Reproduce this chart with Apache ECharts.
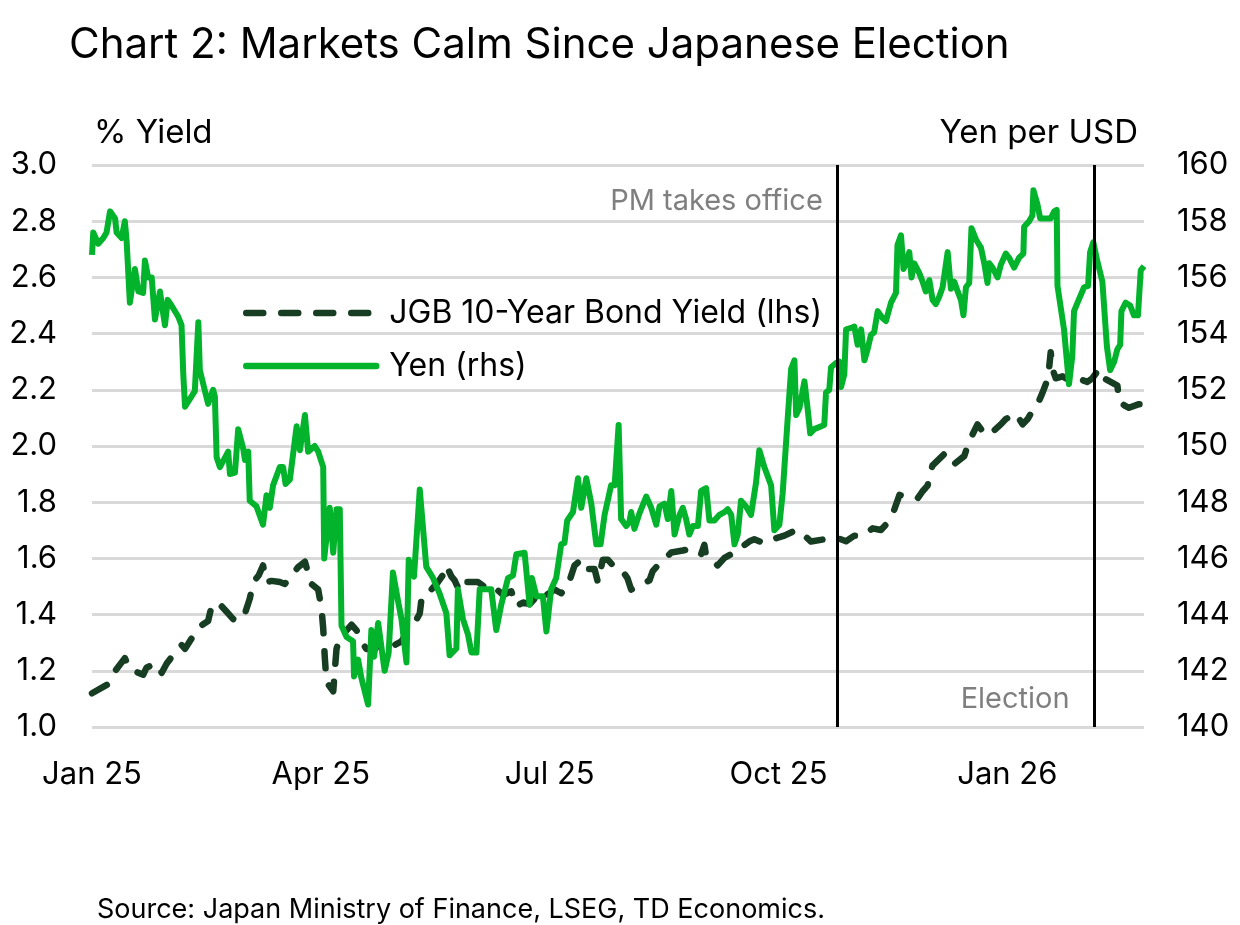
<!DOCTYPE html>
<html>
<head>
<meta charset="utf-8">
<script src="https://cdn.jsdelivr.net/npm/echarts@6/dist/echarts.min.js"></script>
<style>
  html, body { margin: 0; padding: 0; background: #fff; }
  #chart { width: 1240px; height: 925px; }
</style>
</head>
<body>
<div id="chart"></div>
<script>
// x = days since 1 Jan 2025
var xLabels = ['Jan 25', 'Apr 25', 'Jul 25', 'Oct 25', 'Jan 26'];
var quarterDays = 91.25;

// JGB 10-year yield, % (lhs)
var jgbPoints = [
  [0,1.12],[6.5,1.153],[9.2,1.199],[13.1,1.245],[15.1,1.206],[20.4,1.186],[21.8,1.212],[25.8,1.226],[27.8,1.193],[29.8,1.226],
  [33.1,1.265],[35.7,1.292],[37.1,1.278],[40.4,1.325],[43,1.358],[46.3,1.377],[47.7,1.43],[50.3,1.443],[53.7,1.41],[56.3,1.384],
  [58.3,1.377],[61,1.404],[62.9,1.456],[64.3,1.516],[66.5,1.54],[68.2,1.575],[69.5,1.515],[71.6,1.52],[74.9,1.516],[76.9,1.509],
  [82.2,1.569],[84.9,1.588],[87.5,1.509],[90.2,1.489],[91.5,1.423],[92.2,1.351],[92.8,1.252],[93.5,1.16],[96.2,1.127],[96.8,1.199],
  [97.5,1.278],[98.8,1.318],[101.5,1.344],[103.5,1.364],[105.5,1.344],[107.4,1.305],[109.4,1.278],[112.7,1.278],[115.4,1.298],[118,1.305],
  [120.7,1.292],[123.4,1.305],[126,1.344],[128.7,1.371],[130.7,1.404],[131.4,1.456],[133.3,1.483],[135.3,1.489],[138,1.516],[140,1.542],
  [141.3,1.575],[143.3,1.536],[144.6,1.522],[146.6,1.483],[149.3,1.516],[153.9,1.516],[157.9,1.489],[160.6,1.496],[163.9,1.47],[167.2,1.483],
  [169.2,1.43],[171.9,1.443],[174.5,1.437],[177.2,1.463],[179.2,1.45],[181.2,1.47],[184.5,1.489],[187.1,1.476],[189.8,1.503],[192.4,1.575],
  [195.1,1.595],[197.1,1.562],[200.4,1.562],[201.7,1.516],[203.7,1.595],[205.7,1.595],[208.4,1.569],[211,1.562],[213.5,1.53],[215,1.489],
  [217,1.496],[222.3,1.522],[223.6,1.555],[226.3,1.582],[231,1.621],[235.6,1.628],[239,1.635],[242.9,1.615],[244.2,1.648],[244.9,1.608],
  [249.5,1.575],[252.2,1.602],[254.9,1.615],[257.5,1.628],[260.2,1.648],[262.2,1.661],[264.1,1.668],[268.1,1.654],[271.4,1.668],[276.1,1.681],
  [280.8,1.701],[283.4,1.687],[286.7,1.66],[292,1.668],[296.7,1.674],[300.7,1.661],[304,1.681],[307.3,1.681],[311.3,1.707],[314.6,1.701],
  [317.3,1.727],[319.9,1.773],[322,1.826],[326.6,1.819],[329.2,1.813],[331.2,1.839],[333.2,1.859],[334.5,1.912],[335.2,1.931],[339.8,1.971],
  [343.2,1.931],[347.8,1.964],[349.8,2.017],[353.1,2.077],[355.8,2.044],[357.8,2.04],[362.4,2.077],[364.4,2.096],[368.4,2.116],[371.1,2.077],
  [373.1,2.096],[375.7,2.136],[377.7,2.162],[379,2.189],[380.4,2.222],[381.7,2.281],[382.3,2.334],[383,2.274],[384.3,2.241],[387,2.248],
  [389.6,2.235],[393,2.241],[396.9,2.228],[398.9,2.241],[401.6,2.274],[403.6,2.241],[406.2,2.228],[408.9,2.215],[409.6,2.156],[412.2,2.142],
  [413.5,2.136],[417.5,2.149],[419.5,2.149]
];

// Yen per USD (rhs)
var yenPoints = [
  [0,156.8],[0.5,157.6],[2.5,157.2],[4.5,157.4],[5.8,157.6],[7.2,158.35],[9.2,158.1],[9.8,157.6],[11.8,157.4],[13.1,158.0],
  [13.8,157.3],[15.1,155.1],[17.1,156.3],[18.5,155.5],[20.4,155.45],[21.1,156.6],[22.4,156.0],[23.8,156.0],[25.1,154.5],[27.1,155.5],
  [28.4,154.7],[29.1,154.3],[30.2,155.2],[31.7,155.0],[34.4,154.6],[35.7,154.3],[36.4,152.55],[37.1,151.4],[37.7,151.35],[41,151.95],
  [42.4,154.4],[43,152.7],[46.3,151.5],[48.3,152.0],[49,151.75],[49.7,149.6],[51,149.25],[54.3,149.8],[55,149.0],[57,149.05],
  [58.3,150.6],[60.3,149.9],[61,149.5],[62.3,149.8],[62.9,148.05],[65.6,147.85],[68.2,147.2],[69.6,148.25],[70.9,147.8],[72.2,148.6],
  [74.9,149.25],[76.2,149.25],[77.2,148.65],[78.9,148.8],[81.6,150.7],[82.9,149.85],[84.9,151.1],[86.2,149.8],[88.8,150.0],[90.2,149.8],
  [92.2,149.25],[92.6,146.0],[94.8,147.8],[96.2,146.2],[97.5,147.75],[98.8,147.75],[99.5,143.6],[101.5,143.2],[104.1,143.05],[104.5,141.8],
  [106.1,142.4],[107.4,141.75],[110.1,140.8],[111.4,143.45],[112.5,142.5],[114.1,143.7],[116.7,142.0],[118.3,142.65],[120,145.5],[122,144.5],
  [123.4,143.85],[125.4,142.3],[126.3,145.95],[128.4,145.35],[130.7,148.45],[133.3,145.7],[136,145.3],[138.6,144.75],[141.3,144.05],[142.6,142.55],
  [145.3,142.8],[145.9,144.9],[147.9,143.85],[149.9,143.3],[151.3,142.65],[153.3,142.65],[154.6,144.9],[156.6,144.9],[159.2,144.9],[161.2,143.45],
  [163.2,144.35],[165.9,145.3],[167.9,145.4],[169.2,146.15],[172.5,146.2],[174.5,144.35],[175.4,145.3],[177.2,144.65],[179.8,144.65],[181.2,143.4],
  [183.1,144.9],[185.1,145.3],[187.1,146.5],[188.4,146.55],[189.5,147.35],[191.8,147.65],[193.8,148.85],[195.1,147.8],[197.1,148.85],[199.1,147.95],
  [201.1,146.5],[202.8,146.5],[204.4,147.55],[207,148.6],[208.4,148.6],[210,150.75],[211,147.4],[213,147.15],[214.3,147.3],[215,147.65],
  [216.3,147.05],[218.3,147.6],[221,148.2],[223,147.8],[225,147.2],[226.3,147.85],[228.3,147.95],[229.6,147.4],[231,148.4],[232.3,146.85],
  [234.3,147.55],[235.6,147.8],[236.9,147.4],[238.2,146.85],[239.6,147.15],[241.6,147.15],[242.9,148.4],[244.9,148.5],[246.2,147.35],[248.2,147.35],
  [250.2,147.55],[252.2,147.65],[253.5,147.75],[254.9,147.55],[256.2,146.5],[257.5,146.85],[258.8,148.05],[260.8,147.85],[262.8,147.55],[264.8,148.7],
  [266.1,149.85],[268.1,149.25],[270.8,148.6],[272.1,147.0],[274.1,147.2],[275.4,148.3],[277.4,150.95],[278.8,152.75],[280.1,153.05],[280.8,151.1],
  [282.1,151.35],[284.1,152.3],[285.4,151.3],[286.4,150.45],[288,150.6],[292,150.75],[292.7,151.9],[294,152.0],[294.7,152.8],[296.7,152.95],
  [298,153.0],[298.7,152.1],[300,152.55],[300.7,154.15],[302.7,154.2],[304,154.25],[305.3,153.6],[306.7,154.15],[308,153.05],[309.3,153.45],
  [310.6,153.95],[311.9,154.05],[313.3,154.8],[315.3,154.55],[316.6,154.45],[318.6,155.1],[320.6,155.45],[321.2,157.15],[322.6,157.5],[323.6,156.3],
  [324.6,156.5],[325.9,156.9],[326.8,156.0],[327.9,156.5],[329.9,156.15],[331.2,155.85],[332.5,155.5],[333.9,155.9],[335.2,155.2],[336.5,155.05],
  [337.8,155.3],[339.2,155.65],[341.2,156.9],[342.5,155.6],[343.8,155.85],[345.2,155.5],[346.5,155.2],[347.5,154.65],[348.5,155.65],[349.8,155.8],
  [350.7,157.75],[352.5,157.35],[354.5,157.05],[355.8,156.5],[357.1,155.8],[357.8,156.5],[359.1,156.35],[361.1,156.0],[362.4,156.45],[364.4,156.85],
  [365.7,156.7],[367.7,156.35],[369.7,156.7],[371.4,156.85],[371.7,157.8],[373.7,158.0],[375,158.2],[375.4,159.1],[377,158.6],[378.1,158.1],
  [379.7,158.1],[382.3,158.1],[383.7,158.35],[384.7,158.4],[385,155.7],[387.6,154.15],[389.6,152.2],[390.9,153.2],[391.6,154.8],[393,155.1],
  [395.6,155.65],[397.2,155.7],[398,156.9],[399.3,157.25],[400.7,156.65],[402.9,155.85],[404.7,153.55],[406,152.7],[407.6,153.0],[408.9,153.45],
  [410,153.6],[410.5,154.8],[412.2,155.1],[414,155.0],[415.5,154.65],[417.1,154.65],[418.2,156.25],[419.5,156.4]
];

// events: PM takes office, election
var eventDays = [297.2, 399.6];
var eventLabels = ['PM takes office', 'Election'];
var eventLabelYield = [2.87, 1.10];

var FONT = 'Inter';
var chart = echarts.init(document.getElementById('chart'));

var option = {
    animation: false,
    textStyle: { fontFamily: FONT },
    title: [
        {
            text: 'Chart 2: Markets Calm Since Japanese Election',
            left: 64, top: 19,
            textStyle: { fontFamily: FONT, fontSize: 42, fontWeight: 'normal', color: '#000' }
        },
        {
            text: 'Source: Japan Ministry of Finance, LSEG, TD Economics.',
            left: 92, top: 891,
            textStyle: { fontFamily: FONT, fontSize: 27, fontWeight: 'normal', color: '#000' }
        }
    ],
    legend: {
        orient: 'vertical',
        left: 238, top: 292,
        itemWidth: 130, itemHeight: 14, itemGap: 21,
        itemStyle: { opacity: 0 },
        lineStyle: { width: 6.5, cap: 'round', opacity: 1 },
        textStyle: { fontFamily: FONT, fontSize: 32, color: '#000', padding: [0, 0, 0, 8] },
        data: ['JGB 10-Year Bond Yield (lhs)', 'Yen (rhs)']
    },
    grid: { left: 92, right: 96, top: 165, bottom: 198 },
    xAxis: {
        type: 'value',
        min: 0, max: 419.5, interval: quarterDays,
        axisLine: { show: false },
        axisTick: { show: false },
        splitLine: { show: false },
        axisLabel: {
            showMaxLabel: false,
            margin: 32,
            fontFamily: FONT, fontSize: 31, color: '#000',
            formatter: function (v) { return xLabels[Math.round(v / quarterDays)] || ''; }
        }
    },
    yAxis: [
        {
            type: 'value', min: 1, max: 3, interval: 0.2,
            name: '% Yield', nameLocation: 'end', nameGap: 15,
            nameTextStyle: { fontFamily: FONT, fontSize: 33, color: '#000', align: 'left', padding: [0, 0, 0, 2] },
            axisLine: { show: false }, axisTick: { show: false },
            splitLine: { lineStyle: { color: '#d9d9d9', width: 3 } },
            axisLabel: {
                margin: 35, fontFamily: FONT, fontSize: 31, color: '#000',
                formatter: function (v) { return v.toFixed(1); }
            }
        },
        {
            type: 'value', min: 140, max: 160, interval: 2,
            name: 'Yen per USD', nameLocation: 'end', nameGap: 15,
            nameTextStyle: { fontFamily: FONT, fontSize: 33, color: '#000', align: 'right', padding: [0, 6, 0, 0] },
            axisLine: { show: false }, axisTick: { show: false },
            splitLine: { show: false },
            axisLabel: { margin: 33, fontFamily: FONT, fontSize: 31, color: '#000' }
        }
    ],
    series: [
        {
            name: 'JGB 10-Year Bond Yield (lhs)',
            type: 'line',
            yAxisIndex: 0,
            data: jgbPoints,
            symbol: 'none',
            color: '#173d22',
            lineStyle: { color: '#173d22', width: 6.5, type: [17, 18], cap: 'round', join: 'round' },
            markLine: {
                silent: true,
                symbol: 'none',
                label: { show: false },
                lineStyle: { color: '#000', width: 3, type: 'solid' },
                data: eventDays.map(function (d) { return { xAxis: d }; })
            },
            markPoint: {
                silent: true,
                symbol: 'circle',
                symbolSize: 1,
                itemStyle: { color: 'rgba(0,0,0,0)' },
                data: eventDays.map(function (d, i) {
                    return {
                        coord: [d, eventLabelYield[i]],
                        label: {
                            show: true, position: 'left', distance: i === 0 ? 14 : 24,
                            formatter: eventLabels[i],
                            fontFamily: FONT, fontSize: 29, color: '#7f7f7f'
                        }
                    };
                })
            }
        },
        {
            name: 'Yen (rhs)',
            type: 'line',
            yAxisIndex: 1,
            data: yenPoints,
            symbol: 'none',
            color: '#02b32b',
            lineStyle: { color: '#02b32b', width: 6, join: 'round' }
        }
    ]
};

chart.setOption(option);
</script>
</body>
</html>
